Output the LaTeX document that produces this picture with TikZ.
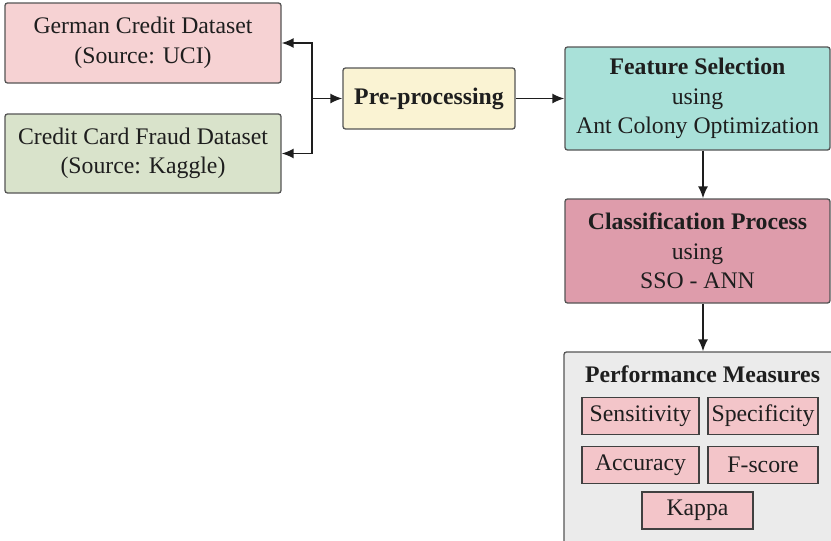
\documentclass[tikz,border=0pt]{standalone}
\usepackage{fontspec}
\setmainfont{Liberation Serif}
\usetikzlibrary{arrows.meta}
\definecolor{ink}{HTML}{1E1E1E}
\definecolor{edge}{HTML}{555555}
\definecolor{german}{HTML}{F6D2D3}
\definecolor{fraud}{HTML}{D9E3CB}
\definecolor{prep}{HTML}{FAF3D3}
\definecolor{feat}{HTML}{A9E1D9}
\definecolor{clsf}{HTML}{DE9CAB}
\definecolor{perfbg}{HTML}{EBEBEB}
\definecolor{meas}{HTML}{F3C5C9}

\begin{document}
\begin{tikzpicture}[x=1pt,y=-1pt,
    box/.style={draw=edge,line width=1.3pt,rounded corners=2.5pt,text=ink,align=center,
      inner sep=0pt,font=\fontsize{23.75}{29.5}\selectfont},
    mbox/.style={draw=ink!85,line width=1.6pt,fill=meas,text=ink,inner sep=0pt,
      minimum height=37,font=\fontsize{23.75}{29.5}\selectfont},
    arr/.style={draw=ink,line width=1.6pt,-{Latex[length=12pt,width=10pt]}}]
    \useasboundingbox (0,0) rectangle (831,541);
    % inputs
    \node[box,fill=german,minimum width=276,minimum height=80] (german) at (143,43)
      {German Credit Dataset\\(Source: UCI)};
    \node[box,fill=fraud,minimum width=276,minimum height=79] (fraud) at (143,153.5)
      {Credit Card Fraud Dataset\\(Source: Kaggle)};
    \node[box,fill=prep,minimum width=172,minimum height=61] (prep) at (429,98.5)
      {\bfseries Pre-processing};
    \node[box,fill=feat,minimum width=265,minimum height=103] (feat) at (697.5,98.5)
      {\bfseries Feature Selection\\using\\Ant Colony Optimization};
    \node[box,fill=clsf,minimum width=265,minimum height=104] (clsf) at (697.5,251)
      {\bfseries Classification Process\\using\\SSO - ANN};
    % measures
    \node[box,fill=perfbg,minimum width=278,minimum height=192] (perf) at (703,448) {};
    \node[text=ink,font=\fontsize{23.75}{29.5}\selectfont\bfseries,anchor=base] (ptitle)
      at (702.5,382) {Performance Measures};
    \foreach \name/\x/\y/\w/\t in {sens/640.5/416/117/Sensitivity, spec/763/416/110/Specificity,
      acc/640.5/465/117/Accuracy, fsc/763/465/110/F-score, kap/697.5/510.5/111/Kappa}
      \node[mbox,minimum width=\w] (\name) at (\x,\y) {\t};
    % connectors
    \coordinate (jn) at (312,98.5);
    \draw[arr] (jn) |- (german.east);
    \draw[arr] (jn) |- (fraud.east);
    \draw[arr] (jn) -- (prep.west);
    \draw[arr] (prep) -- (feat);
    \draw[arr] ([xshift=5.5pt]feat.south) -- ([xshift=5.5pt]clsf.north);
    \draw[arr] ([xshift=5.5pt]clsf.south) -- (perf.north);
\end{tikzpicture}
\end{document}
